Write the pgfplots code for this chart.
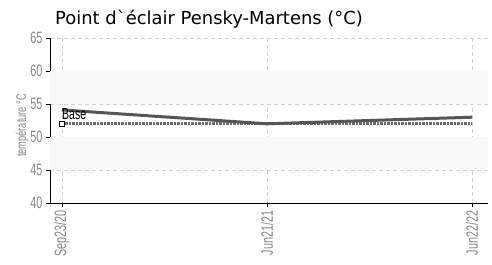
\documentclass[border=0pt]{standalone}
\usepackage{pgfplots}
\pgfplotsset{compat=1.18}
\usepackage{fontspec}
\setmainfont{DejaVu Sans}
\newfontfamily\titlefont{DejaVu Sans}
\newfontfamily\cond{Liberation Sans}[FakeStretch=0.66]
\definecolor{tickgray}{HTML}{858585}
\definecolor{bandgray}{HTML}{F8F8F8}
\definecolor{gridgray}{HTML}{D0D0D0}
\definecolor{linegray}{HTML}{555555}
\definecolor{basegray}{HTML}{6A6A6A}
\begin{document}
\begin{tikzpicture}
\begin{axis}[
  scale only axis,
  width=438bp, height=165bp,
  xmin=-0.0585, xmax=2.078,
  ymin=40, ymax=65,
  ytick={40,45,50,55,60,65},
  xtick={0,1,2},
  xticklabels={Sep23/20,Jun21/21,Jun22/22},
  x tick label style={rotate=90, anchor=east, font=\cond\fontsize{16.5}{16.5}\selectfont, text=tickgray},
  y tick label style={font=\cond\fontsize{16.5}{16.5}\selectfont, text=tickgray},
  /pgf/number format/assume math mode=true,
  axis x line*=bottom, axis y line*=left,
  axis line style={black, line width=1pt, -},
  tick style={black, line width=0.8pt},
  major tick length=4bp,
  tick align=outside,
  xmajorgrids, ymajorgrids,
  grid style={gridgray, dash pattern=on 4bp off 3bp, line width=0.7pt},
  ylabel={température °C},
  ylabel style={font=\cond\fontsize{14}{14}\selectfont, text=tickgray, at={(axis description cs:-0.04,0.47)}},
  clip=false,
]
\addplot[draw=none, fill=bandgray, forget plot] coordinates {(-0.0585,55) (2.078,55) (2.078,60) (-0.0585,60)} -- cycle;
\addplot[draw=none, fill=bandgray, forget plot] coordinates {(-0.0585,45) (2.078,45) (2.078,50) (-0.0585,50)} -- cycle;
\addplot[draw=basegray, line width=3bp, dash pattern=on 2.2bp off 1.3bp] coordinates {(0,52) (1,52) (2,52)};
\addplot[draw=linegray, line width=3bp] coordinates {(0,54.1) (1,52) (2,53)};
\addplot[only marks, mark=square*, mark size=2.5bp, mark options={fill=white, draw=black, line width=0.8pt}] coordinates {(0,52)};
\node[anchor=south west, inner sep=0pt, font=\cond\fontsize{16}{16}\selectfont] at (axis cs:0,52.6) {Base};
\node[anchor=south west, inner sep=0pt, font=\titlefont\fontsize{18}{18}\selectfont] at (rel axis cs:0,1) [xshift=5bp, yshift=10bp] {Point d`éclair Pensky-Martens (°C)};
\end{axis}
\pgfresetboundingbox
\path[use as bounding box] (-50bp,-62bp) rectangle (442bp,203bp);
\end{tikzpicture}
\end{document}
